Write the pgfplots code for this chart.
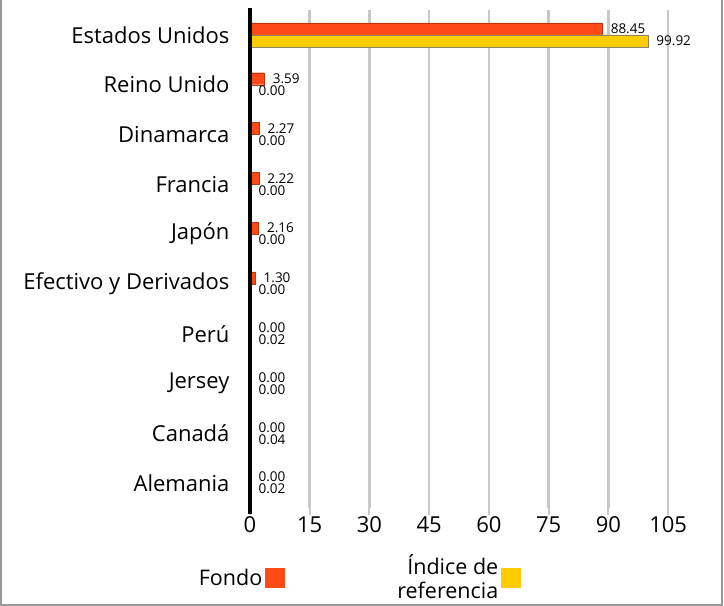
\documentclass[border=0pt]{standalone}
\usepackage{fontspec}
\setmainfont{Open Sans}
\usepackage{pgfplots}
\pgfplotsset{compat=1.18}
\definecolor{fondo}{HTML}{FF4A17}
\definecolor{fondoedge}{HTML}{B5390F}
\definecolor{indice}{HTML}{FFCC00}
\definecolor{indiceedge}{HTML}{8C8468}
\definecolor{gridc}{HTML}{C8C8C8}
\begin{document}
\begin{tikzpicture}[x=1pt,y=1pt]
\begin{axis}[
  at={(0,0)}, anchor=south west,
  scale only axis, width=458pt, height=498pt,
  xbar, bar width=12pt,
  xmin=0, xmax=115,
  ymin=-0.5, ymax=9.5, y dir=reverse,
  ytick={0,...,9},
  yticklabels={Estados Unidos,Reino Unido,Dinamarca,Francia,Japón,Efectivo y Derivados,Perú,Jersey,Canadá,Alemania},
  xtick={0,15,...,105},
  /pgf/number format/assume math mode=true,
  ticklabel style={font=\fontsize{22}{22}\selectfont},
  yticklabel style={xshift=-10pt},
  xticklabel style={yshift=2pt},
  axis y line*=left, axis x line*=bottom,
  x axis line style={draw=none},
  y axis line style={line width=4pt, black, -},
  ytick style={draw=none},
  xtick style={gridc, line width=2pt},
  tick align=outside, major tick length=7pt,
  xmajorgrids, grid style={gridc, line width=2.5pt},
  point meta=x,
  nodes near coords,
  nodes near coords style={font=\fontsize{13.5}{13.5}\selectfont, anchor=west, xshift=5pt, black,
    /pgf/number format/.cd, fixed, fixed zerofill, precision=2},
  legend plot pos=right,
  legend columns=2,
  legend image code/.code={\fill[#1,draw=none] (2pt,-10pt) rectangle (22pt,10pt);},
  legend style={draw=none, fill=none, at={(0.237,-0.14)}, anchor=center,
    nodes={align=right, font=\fontsize{21.5}{24}\selectfont, inner sep=3pt},
    /tikz/every even column/.append style={column sep=109pt}},
  after end axis/.code={\draw[black, line width=4pt] (rel axis cs:0,-0.012) -- (rel axis cs:0,1.004);},
]
\addplot[fill=fondo, draw=fondoedge, bar shift=6pt] coordinates {
(88.45,0) (3.59,1) (2.27,2) (2.22,3) (2.16,4) (1.30,5) (0,6) (0,7) (0,8) (0,9)};
\addlegendentry{Fondo}
\addplot[fill=indice, draw=indiceedge, bar shift=-6pt] coordinates {
(99.92,0) (0,1) (0,2) (0,3) (0,4) (0,5) (0.02,6) (0,7) (0.04,8) (0.02,9)};
\addlegendentry{Índice de\\referencia}
\end{axis}
\draw[gray!80, line width=1.5pt] (-249,508) -- (-249,-97) -- (472,-97) -- (472,508);
\pgfresetboundingbox
\useasboundingbox (-250,-98) rectangle (474,508);
\end{tikzpicture}
\end{document}
